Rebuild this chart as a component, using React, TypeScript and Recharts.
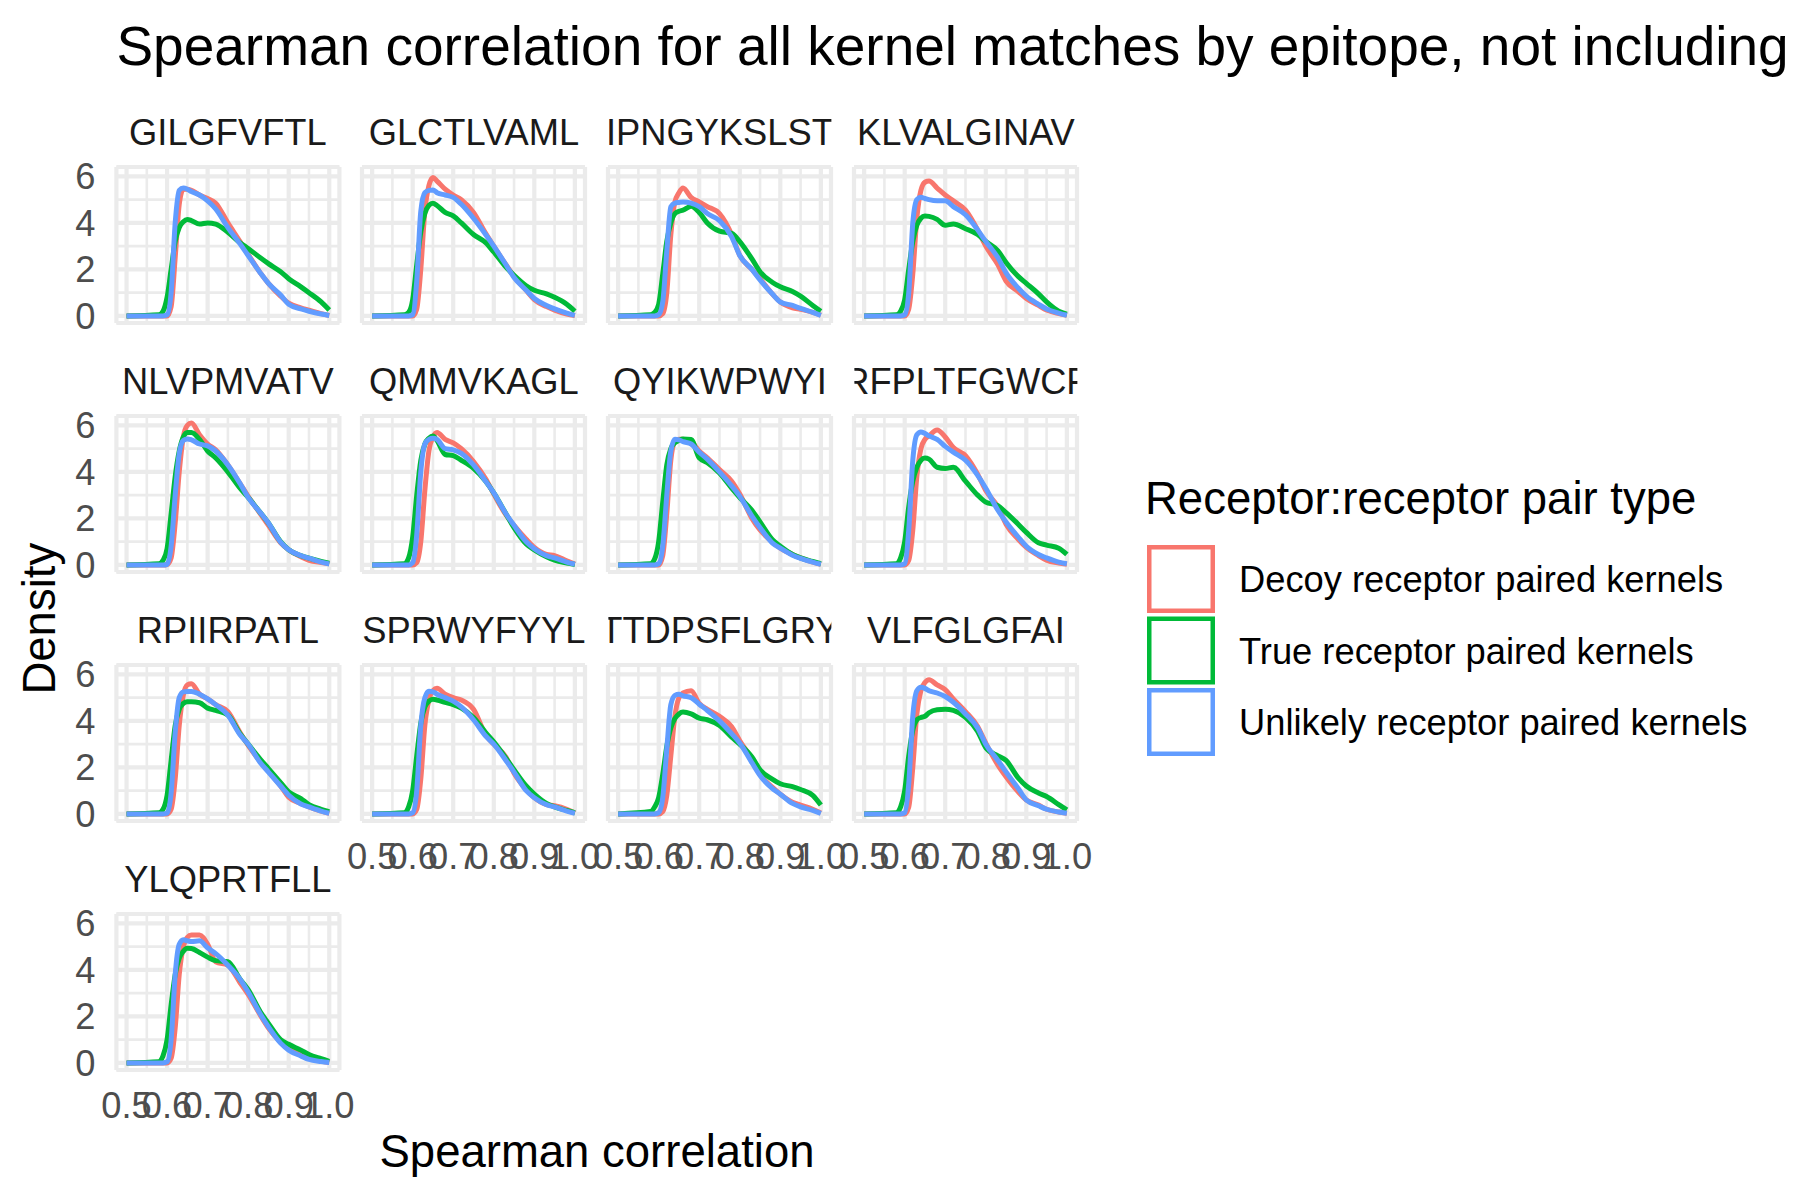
import React from 'react';
import { LineChart, Line, XAxis, YAxis, CartesianGrid } from 'recharts';

const FONT = '"Liberation Sans", Arial, sans-serif';

const chartTitle = 'Spearman correlation for all kernel matches by epitope, not including';
const xAxisTitle = 'Spearman correlation';
const yAxisTitle = 'Density';
const legendTitle = 'Receptor:receptor pair type';

const epitopes = [
  'GILGFVFTL', 'GLCTLVAML', 'IPNGYKSLST', 'KLVALGINAV',
  'NLVPMVATV', 'QMMVKAGL', 'QYIKWPWYI', 'RFPLTFGWCF',
  'RPIIRPATL', 'SPRWYFYYL', 'TTDPSFLGRY', 'VLFGLGFAI',
  'YLQPRTFLL',
];

const seriesNames = ['Decoy receptor paired kernels', 'True receptor paired kernels', 'Unlikely receptor paired kernels'];
const seriesKeys = ['decoy', 'truePair', 'unlikely'];
const seriesColors = ['#F8766D', '#00BA38', '#619CFF'];

const xGrid = [0.5, 0.58, 0.59, 0.6, 0.61, 0.62, 0.63, 0.64, 0.65, 0.66, 0.68, 0.7, 0.72, 0.75, 0.78, 0.8, 0.83, 0.85, 0.88, 0.9, 0.93, 0.95, 0.98, 1.0];

const xMajorTicks = [0.5, 0.6, 0.7, 0.8, 0.9, 1.0];
const xMinorTicks = [0.55, 0.65, 0.75, 0.85, 0.95];
const yMajorTicks = [0, 2, 4, 6];
const yMinorTicks = [1, 3, 5];

const decoyDensity = [
  [0, 0, 0, 0, 0.4, 2.5, 4.8, 5.45, 5.45, 5.4, 5.2, 5.05, 4.85, 4.0, 3.2, 2.65, 1.85, 1.4, 0.85, 0.55, 0.35, 0.25, 0.1, 0.02],
  [0, 0, 0, 0, 0.3, 2.0, 4.5, 5.6, 5.95, 5.8, 5.45, 5.2, 5.0, 4.45, 3.55, 3.0, 2.2, 1.7, 1.1, 0.7, 0.4, 0.25, 0.08, 0.02],
  [0, 0, 0, 0, 0.1, 1.0, 3.5, 4.9, 5.3, 5.5, 5.1, 4.9, 4.7, 4.4, 3.5, 2.6, 2.0, 1.6, 0.95, 0.6, 0.35, 0.28, 0.15, 0.03],
  [0, 0, 0, 0, 0.3, 1.8, 4.2, 5.4, 5.75, 5.8, 5.5, 5.2, 4.95, 4.55, 3.7, 3.0, 2.2, 1.5, 1.05, 0.75, 0.45, 0.25, 0.1, 0.03],
  [0, 0, 0, 0.02, 0.3, 1.8, 4.0, 5.5, 6.0, 6.1, 5.6, 5.2, 4.95, 4.3, 3.5, 2.95, 2.2, 1.7, 0.95, 0.65, 0.35, 0.2, 0.1, 0.05],
  [0, 0, 0, 0, 0.1, 1.0, 3.2, 4.9, 5.5, 5.7, 5.4, 5.25, 5.0, 4.45, 3.7, 3.05, 2.15, 1.7, 1.1, 0.75, 0.45, 0.4, 0.18, 0.04],
  [0, 0, 0, 0, 0.4, 2.2, 4.5, 5.3, 5.4, 5.4, 5.3, 4.9, 4.6, 4.1, 3.6, 3.05, 2.0, 1.5, 1.0, 0.72, 0.45, 0.3, 0.12, 0.03],
  [0, 0, 0, 0, 0.2, 1.5, 3.8, 5.0, 5.4, 5.55, 5.8, 5.5, 5.05, 4.7, 3.9, 3.2, 2.5, 1.75, 1.1, 0.75, 0.4, 0.2, 0.08, 0.03],
  [0, 0, 0, 0, 0.2, 1.5, 3.8, 5.1, 5.55, 5.6, 5.15, 4.95, 4.7, 4.4, 3.5, 2.95, 2.25, 1.85, 1.2, 0.72, 0.45, 0.3, 0.12, 0.03],
  [0, 0, 0, 0, 0.2, 1.5, 3.8, 4.9, 5.3, 5.4, 5.15, 5.0, 4.9, 4.5, 3.4, 3.0, 2.45, 1.75, 1.05, 0.7, 0.4, 0.35, 0.2, 0.04],
  [0, 0, 0, 0, 0.1, 0.8, 2.5, 4.2, 5.0, 5.2, 5.3, 4.75, 4.5, 4.2, 3.75, 3.15, 2.35, 1.7, 1.15, 0.85, 0.5, 0.38, 0.2, 0.04],
  [0, 0, 0, 0, 0.3, 2.0, 4.3, 5.3, 5.65, 5.77, 5.55, 5.35, 4.95, 4.4, 3.76, 3.04, 2.1, 1.6, 0.95, 0.6, 0.38, 0.2, 0.08, 0.03],
  [0, 0, 0, 0, 0.2, 1.5, 3.8, 5.0, 5.4, 5.5, 5.5, 5.1, 4.35, 4.2, 3.45, 2.95, 2.05, 1.5, 0.9, 0.65, 0.35, 0.22, 0.08, 0.02],
];

const trueDensity = [
  [0, 0.05, 0.2, 0.8, 2.0, 3.2, 3.8, 4.05, 4.15, 4.1, 3.95, 4.0, 3.95, 3.6, 3.15, 2.9, 2.5, 2.25, 1.9, 1.6, 1.25, 1.0, 0.6, 0.25],
  [0, 0.05, 0.15, 0.7, 2.2, 3.6, 4.4, 4.75, 4.85, 4.75, 4.45, 4.3, 4.0, 3.5, 3.15, 2.75, 2.1, 1.75, 1.3, 1.1, 0.95, 0.8, 0.5, 0.2],
  [0, 0.05, 0.15, 0.5, 1.8, 3.2, 4.0, 4.4, 4.5, 4.55, 4.72, 4.45, 4.0, 3.65, 3.55, 3.2, 2.45, 1.9, 1.45, 1.25, 1.05, 0.85, 0.45, 0.2],
  [0, 0.05, 0.2, 0.7, 2.0, 3.2, 3.9, 4.2, 4.3, 4.28, 4.15, 3.9, 3.95, 3.75, 3.5, 3.2, 2.8, 2.3, 1.7, 1.4, 0.95, 0.6, 0.2, 0.08],
  [0, 0.05, 0.2, 0.7, 2.2, 3.8, 4.9, 5.5, 5.7, 5.7, 5.4, 4.9, 4.6, 4.0, 3.3, 2.9, 2.25, 1.8, 1.0, 0.65, 0.4, 0.29, 0.15, 0.07],
  [0, 0.05, 0.3, 1.2, 3.0, 4.5, 5.2, 5.45, 5.55, 5.35, 4.75, 4.7, 4.5, 4.15, 3.6, 3.1, 2.2, 1.6, 0.9, 0.65, 0.35, 0.2, 0.08, 0.02],
  [0, 0.05, 0.25, 1.0, 2.7, 4.3, 5.0, 5.25, 5.35, 5.42, 5.4, 4.6, 4.4, 3.95, 3.3, 2.9, 2.35, 1.85, 1.1, 0.8, 0.45, 0.3, 0.15, 0.05],
  [0, 0.05, 0.3, 1.0, 2.5, 3.6, 4.2, 4.5, 4.6, 4.55, 4.2, 4.15, 4.2, 3.6, 3.0, 2.7, 2.55, 2.25, 1.75, 1.4, 0.95, 0.85, 0.72, 0.45],
  [0, 0.05, 0.2, 0.8, 2.3, 3.8, 4.5, 4.75, 4.82, 4.82, 4.78, 4.55, 4.45, 4.25, 3.45, 3.0, 2.35, 1.95, 1.35, 0.95, 0.66, 0.4, 0.2, 0.1],
  [0, 0.05, 0.3, 1.0, 2.5, 3.9, 4.6, 4.85, 4.93, 4.9, 4.8, 4.7, 4.55, 4.15, 3.5, 3.1, 2.4, 1.9, 1.2, 0.85, 0.45, 0.3, 0.15, 0.05],
  [0, 0.1, 0.3, 0.7, 1.7, 2.9, 3.7, 4.1, 4.3, 4.38, 4.3, 4.12, 4.05, 3.8, 3.3, 3.0, 2.45, 1.9, 1.5, 1.3, 1.17, 1.05, 0.8, 0.38],
  [0, 0.05, 0.3, 1.0, 2.5, 3.6, 4.05, 4.15, 4.2, 4.35, 4.48, 4.5, 4.45, 4.15, 3.55, 2.85, 2.5, 2.3, 1.55, 1.2, 0.9, 0.75, 0.4, 0.17],
  [0, 0.05, 0.3, 1.0, 2.5, 3.8, 4.5, 4.8, 4.93, 4.92, 4.75, 4.55, 4.4, 4.35, 3.6, 3.15, 2.2, 1.7, 1.0, 0.8, 0.55, 0.36, 0.18, 0.07],
];

const unlikelyDensity = [
  [0, 0, 0, 0.05, 1.0, 4.0, 5.4, 5.5, 5.45, 5.35, 5.2, 4.95, 4.6, 3.8, 3.1, 2.6, 1.85, 1.4, 0.9, 0.5, 0.3, 0.2, 0.08, 0.02],
  [0, 0, 0, 0.05, 1.5, 4.5, 5.3, 5.4, 5.42, 5.3, 5.2, 5.1, 4.8, 4.2, 3.5, 3.0, 2.2, 1.65, 1.1, 0.75, 0.45, 0.3, 0.12, 0.02],
  [0, 0, 0, 0.05, 0.6, 2.8, 4.7, 4.85, 4.88, 4.9, 4.85, 4.7, 4.4, 4.1, 3.4, 2.6, 2.0, 1.55, 0.95, 0.6, 0.45, 0.32, 0.15, 0.02],
  [0, 0, 0, 0.05, 1.0, 4.0, 5.0, 5.1, 5.05, 5.0, 4.95, 4.95, 4.7, 4.35, 3.7, 3.2, 2.5, 1.85, 1.2, 0.85, 0.5, 0.3, 0.12, 0.03],
  [0, 0, 0, 0.02, 0.8, 3.0, 4.8, 5.35, 5.42, 5.38, 5.2, 5.12, 4.9, 4.3, 3.5, 2.9, 2.25, 1.8, 0.98, 0.65, 0.4, 0.29, 0.12, 0.04],
  [0, 0, 0, 0.1, 1.3, 4.0, 5.2, 5.4, 5.45, 5.4, 5.0, 4.95, 4.8, 4.3, 3.6, 3.1, 2.2, 1.7, 1.0, 0.7, 0.4, 0.3, 0.12, 0.03],
  [0, 0, 0, 0.05, 0.8, 3.0, 4.9, 5.4, 5.38, 5.3, 5.2, 4.85, 4.55, 4.0, 3.4, 2.95, 2.1, 1.6, 0.95, 0.72, 0.42, 0.28, 0.12, 0.03],
  [0, 0, 0, 0.05, 1.5, 4.5, 5.6, 5.72, 5.65, 5.55, 5.4, 5.1, 4.85, 4.5, 3.85, 3.3, 2.35, 1.85, 1.2, 0.8, 0.45, 0.3, 0.12, 0.05],
  [0, 0, 0, 0.03, 0.9, 3.5, 5.0, 5.25, 5.27, 5.27, 5.15, 4.95, 4.7, 4.25, 3.4, 3.0, 2.2, 1.8, 1.2, 0.8, 0.43, 0.3, 0.12, 0.03],
  [0, 0, 0, 0.05, 1.0, 3.8, 5.0, 5.28, 5.25, 5.15, 5.0, 4.85, 4.6, 4.05, 3.35, 3.0, 2.3, 1.8, 1.0, 0.7, 0.4, 0.3, 0.12, 0.03],
  [0, 0, 0, 0.05, 0.7, 2.8, 4.7, 5.1, 5.15, 5.08, 5.0, 4.72, 4.45, 4.0, 3.45, 3.05, 2.2, 1.65, 1.1, 0.85, 0.45, 0.3, 0.15, 0.02],
  [0, 0, 0, 0.05, 1.3, 4.2, 5.3, 5.45, 5.4, 5.3, 5.2, 5.05, 4.8, 4.3, 3.7, 3.0, 2.3, 1.8, 1.1, 0.6, 0.35, 0.2, 0.08, 0.03],
  [0, 0, 0, 0.05, 1.0, 3.8, 5.1, 5.3, 5.25, 5.22, 5.25, 4.95, 4.7, 4.2, 3.6, 3.05, 2.1, 1.55, 0.85, 0.55, 0.3, 0.15, 0.06, 0.02],
];

const densitySets = [decoyDensity, trueDensity, unlikelyDensity];

// ggplot-style expansion of the shared (fixed) scales
const xMin = Math.min(...xGrid);
const xMax = Math.max(...xGrid);
const xPad = (xMax - xMin) * 0.05;
const xDomain: [number, number] = [xMin - xPad, xMax + xPad];
const densMax = Math.max(...densitySets.flat(2));
const yPad = densMax * 0.05;
const yDomain: [number, number] = [0 - yPad, densMax + yPad];

// layout (pixels)
const PANEL_W = 223;
const PANEL_H = 156;
const COL_X0 = 116.4;
const COL_PITCH = 246;
const ROW_Y0 = 167;
const ROW_PITCH = 249.1;
const SMALL = 36.3;
const MID = 45.5;
const BIG = 55;

const GRID = '#EBEBEB';

function Panel({ idx }: { idx: number }) {
  const r = Math.floor(idx / 4);
  const c = idx % 4;
  const hasY = c === 0;
  const hasX = (c === 0 && r === 3) || (c > 0 && r === 2);
  const pLeft = COL_X0 + c * COL_PITCH;
  const pTop = ROW_Y0 + r * ROW_PITCH;
  const yAxisW = hasY ? pLeft : 0;
  const xAxisH = hasX ? 70 : 0;
  const mTop = 25;
  const mRight = 35;
  const mBottom = hasX ? 0 : 25;
  const mLeft = hasY ? 0 : 35;
  const data = xGrid.map((x, k) => ({
    x,
    decoy: decoyDensity[idx][k],
    truePair: trueDensity[idx][k],
    unlikely: unlikelyDensity[idx][k],
  }));
  const w = mLeft + yAxisW + PANEL_W + mRight;
  const h = mTop + PANEL_H + xAxisH + mBottom;
  const tickStyle = { fontSize: SMALL, fill: '#4D4D4D', fontFamily: FONT };
  return (
    <div style={{ position: 'absolute', left: pLeft - yAxisW - mLeft, top: pTop - mTop, width: w, height: h }}>
      <LineChart width={w} height={h} data={data} margin={{ top: mTop, right: mRight, bottom: mBottom, left: mLeft }}>
        <XAxis
          xAxisId="maj"
          dataKey="x"
          type="number"
          domain={xDomain}
          allowDataOverflow
          ticks={xMajorTicks}
          interval={0}
          hide={!hasX}
          height={hasX ? xAxisH : 0}
          tickLine={false}
          axisLine={false}
          tickSize={0}
          tickMargin={22}
          tick={tickStyle}
          tickFormatter={(v: number) => v.toFixed(1)}
        />
        <XAxis xAxisId="min" dataKey="x" type="number" domain={xDomain} allowDataOverflow ticks={xMinorTicks} interval={0} hide />
        <YAxis
          yAxisId="maj"
          type="number"
          domain={yDomain}
          allowDataOverflow
          ticks={yMajorTicks}
          interval={0}
          hide={!hasY}
          width={hasY ? yAxisW : 0}
          tickLine={false}
          axisLine={false}
          tickSize={0}
          tickMargin={21}
          tick={tickStyle}
        />
        <YAxis yAxisId="min" type="number" domain={yDomain} allowDataOverflow ticks={yMinorTicks} interval={0} hide />
        <CartesianGrid xAxisId="min" yAxisId="min" stroke={GRID} strokeWidth={2.6} />
        <CartesianGrid xAxisId="maj" yAxisId="maj" stroke={GRID} strokeWidth={4.2} />
        {seriesKeys.map((k, s) => (
          <Line
            key={k}
            xAxisId="maj"
            yAxisId="maj"
            type="monotone"
            dataKey={k}
            stroke={seriesColors[s]}
            strokeWidth={5}
            dot={false}
            activeDot={false}
            isAnimationActive={false}
          />
        ))}
      </LineChart>
    </div>
  );
}

function Overlay() {
  const keyTop0 = 545;
  const keyPitch = 71.5;
  const keySize = 68;
  const keyLeft = 1147;
  const sw = 4.5;
  return (
    <svg width={1800} height={1200} style={{ position: 'absolute', left: 0, top: 0 }} fontFamily={FONT}>
      <defs>
        {epitopes.map((e, i) => {
          const r = Math.floor(i / 4);
          const c = i % 4;
          return (
            <clipPath id={`strip${i}`} key={e}>
              <rect x={COL_X0 + c * COL_PITCH} y={ROW_Y0 + r * ROW_PITCH - 65} width={PANEL_W} height={60} />
            </clipPath>
          );
        })}
      </defs>
      <text x={116.4} y={65} fontSize={BIG} fill="#000">{chartTitle}</text>
      {epitopes.map((e, i) => {
        const r = Math.floor(i / 4);
        const c = i % 4;
        return (
          <text
            key={e}
            clipPath={`url(#strip${i})`}
            x={COL_X0 + c * COL_PITCH + PANEL_W / 2}
            y={145 + r * ROW_PITCH}
            fontSize={SMALL}
            fill="#1A1A1A"
            textAnchor="middle"
          >
            {e}
          </text>
        );
      })}
      <text x={597} y={1167} fontSize={MID} textAnchor="middle" fill="#000">{xAxisTitle}</text>
      <text
        x={0}
        y={0}
        transform={`translate(55, 618.7) rotate(-90)`}
        fontSize={MID}
        textAnchor="middle"
        fill="#000"
      >
        {yAxisTitle}
      </text>
      <text x={1145} y={514} fontSize={MID} fill="#000">{legendTitle}</text>
      {seriesNames.map((n, s) => {
        const top = keyTop0 + s * keyPitch;
        return (
          <g key={n}>
            <rect
              x={keyLeft + sw / 2}
              y={top + sw / 2}
              width={keySize - sw}
              height={keySize - sw}
              fill="#FFFFFF"
              stroke={seriesColors[s]}
              strokeWidth={sw}
            />
            <text x={1239} y={top + keySize / 2 + 13} fontSize={SMALL} fill="#000">{n}</text>
          </g>
        );
      })}
    </svg>
  );
}

export default function App() {
  return (
    <div
      style={{
        position: 'absolute',
        left: 0,
        top: 0,
        width: 1800,
        height: 1200,
        overflow: 'hidden',
        background: '#FFFFFF',
        fontFamily: FONT,
      }}
    >
      <Overlay />
      {epitopes.map((e, i) => (
        <Panel key={e} idx={i} />
      ))}
    </div>
  );
}
